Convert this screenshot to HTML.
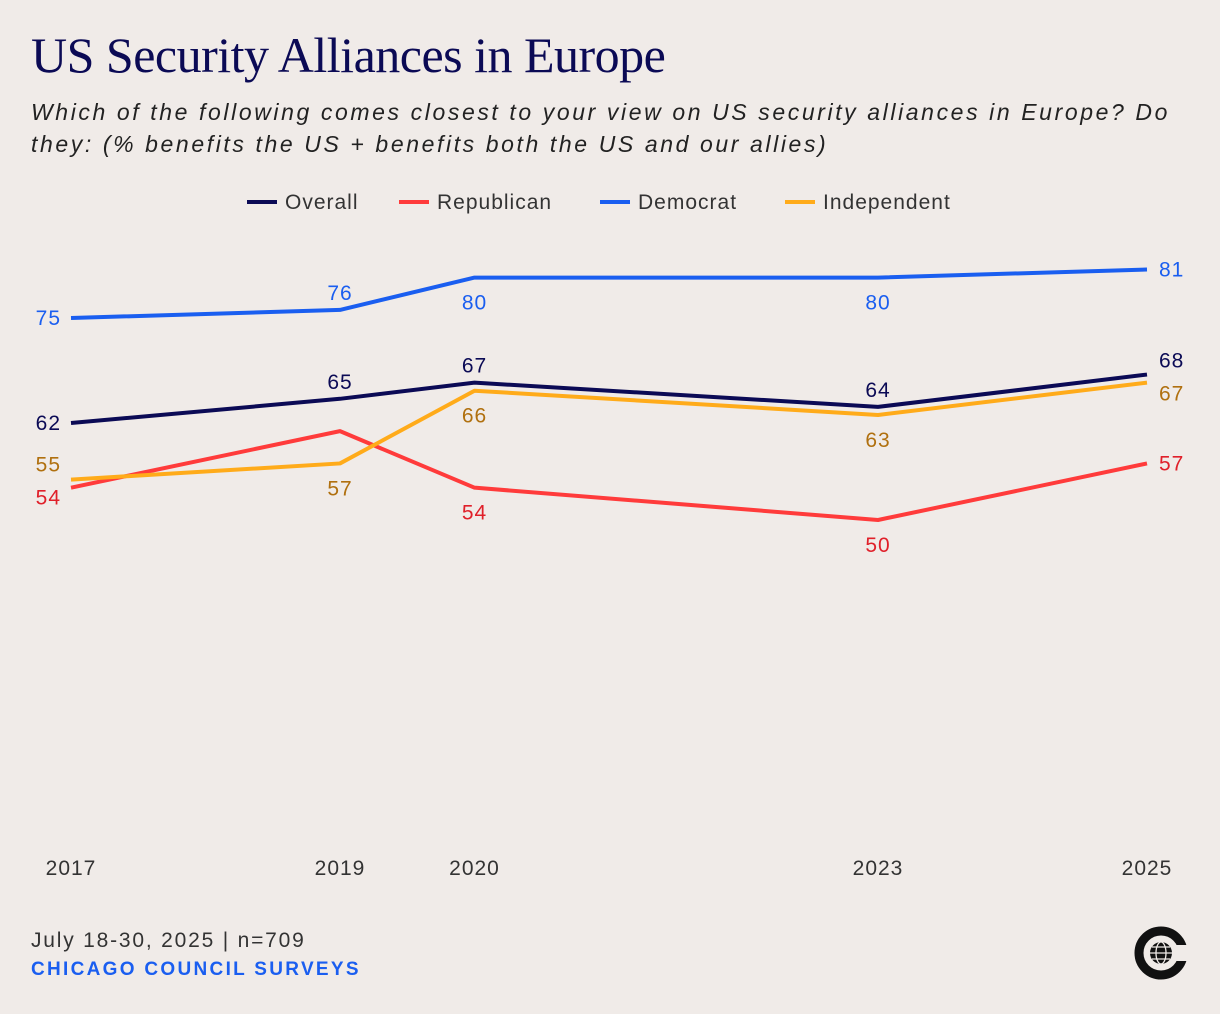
<!DOCTYPE html>
<html><head><meta charset="utf-8"><style>
html,body{margin:0;padding:0;background:#f0ebe8;}
body{width:1220px;height:1014px;overflow:hidden;position:relative;font-family:"Liberation Sans",sans-serif;}
#title{position:absolute;left:31px;top:26px;font-family:"Liberation Serif",serif;font-size:50px;color:#0b0a55;letter-spacing:-0.5px;}
#sub{position:absolute;left:31px;top:96px;font-size:23px;font-style:italic;color:#222;line-height:32px;width:1175px;letter-spacing:2.6px;}
#foot1{position:absolute;left:31px;top:929px;font-size:21px;color:#333;letter-spacing:1.8px;}
#foot2{position:absolute;left:31px;top:959px;font-size:19px;font-weight:bold;color:#1a5ef0;letter-spacing:2.3px;}
svg{position:absolute;left:0;top:0;}
svg text{letter-spacing:1px;}
</style></head><body>
<div id="title">US Security Alliances in Europe</div>
<div id="sub">Which of the following comes closest to your view on US security alliances in Europe? Do they: (% benefits the US + benefits both the US and our allies)</div>
<svg id="chart" width="1220" height="1014"></svg>
<div id="foot1">July 18-30, 2025 | n=709</div>
<div id="foot2">CHICAGO COUNCIL SURVEYS</div>
<svg width="1220" height="1014">
<circle cx="1161" cy="953" r="22" fill="none" stroke="#111" stroke-width="9"/>
<rect x="1168" y="945" width="24" height="16" fill="#f0ebe8"/>
<circle cx="1161" cy="953" r="11" fill="#111"/>
<g stroke="#f0ebe8" stroke-width="1.3" fill="none"><ellipse cx="1161" cy="953" rx="5" ry="11"/><line x1="1150" y1="953" x2="1172" y2="953"/><line x1="1152" y1="947" x2="1170" y2="947"/><line x1="1152" y1="959" x2="1170" y2="959"/></g>
</svg>
<script>
const years=[2017,2019,2020,2023,2025];
const overall=[62,65,67,64,68];
const republican=[54,61,54,50,57];
const democrat=[75,76,80,80,81];
const independent=[55,57,66,63,67];
const seriesNames=["Overall","Republican","Democrat","Independent"];
const xAxisLabels=["2017","2019","2020","2023","2025"];

const svg=document.getElementById('chart');
const NS="http://www.w3.org/2000/svg";
function x(yr){return 71+(yr-2017)*(1147-71)/8;}
function y(v){return 318+(75-v)*8.08;}
const series=[
 {name:"Overall",vals:overall,col:"#0b0a55",lab:"#0b0a55",pos:["l","a","a","a","a"]},
 {name:"Republican",vals:republican,col:"#ff3b3b",lab:"#e0202a",pos:["lb","n","b","b","r"]},
 {name:"Democrat",vals:democrat,col:"#1a5ef0",lab:"#1a5ef0",pos:["l","a","b","b","r"]},
 {name:"Independent",vals:independent,col:"#ffab1a",lab:"#b0700f",pos:["la","b","b","b","b"]}
];
function mk(t,a){const e=document.createElementNS(NS,t);for(const k in a)e.setAttribute(k,a[k]);svg.appendChild(e);return e;}
const legX=[247,399,600,785];
series.forEach((s,i)=>{
 const l=mk('line',{x1:legX[i],y1:202,x2:legX[i]+30,y2:202,stroke:s.col,'stroke-width':4});
 
 
 const t=mk('text',{x:legX[i]+38,y:209,'font-size':21,fill:'#333','font-family':'Liberation Sans, sans-serif','letter-spacing':'1.4'});
 t.textContent=seriesNames[i];
 
 
});
years.forEach((yr,i)=>{
 const t=mk('text',{x:x(yr),y:875,'font-size':21,fill:'#333','text-anchor':'middle','font-family':'Liberation Sans, sans-serif','letter-spacing':'1.8'});
 t.textContent=xAxisLabels[i];
 
 
});
[series[2],series[1],series[3],series[0]].forEach(s=>{
 const p=mk('polyline',{points:s.vals.map((v,i)=>x(years[i])+','+y(v)).join(' '),fill:'none',stroke:s.col,'stroke-width':4,'stroke-linejoin':'round'});
 
 
});
series.forEach(s=>{
 s.vals.forEach((v,i)=>{
  const px=x(years[i]),py=y(v);let tx=px,ty=py+7,anc='middle';
  const p=s.pos[i];
  if(p==='l'){tx=px-10;anc='end';}
  else if(p==='lb'){tx=px-10;anc='end';ty=py+17;}
  else if(p==='la'){tx=px-10;anc='end';ty=py-8;}
  else if(p==='r'){tx=px+12;anc='start';ty=py+7;}
  else if(p==='a'){ty=py-10;if(i===4){tx=px+12;anc='start';ty=py-7;}}
  else if(p==='b'){ty=py+32;if(i===4){tx=px+12;anc='start';ty=py+18;}}
  else if(p==='n'){return;}
  const t=mk('text',{x:tx,y:ty,'font-size':21,fill:s.lab,'text-anchor':anc,'font-family':'Liberation Sans, sans-serif'});
  t.textContent=v;
  
  
 });
});
</script>
</body></html>
